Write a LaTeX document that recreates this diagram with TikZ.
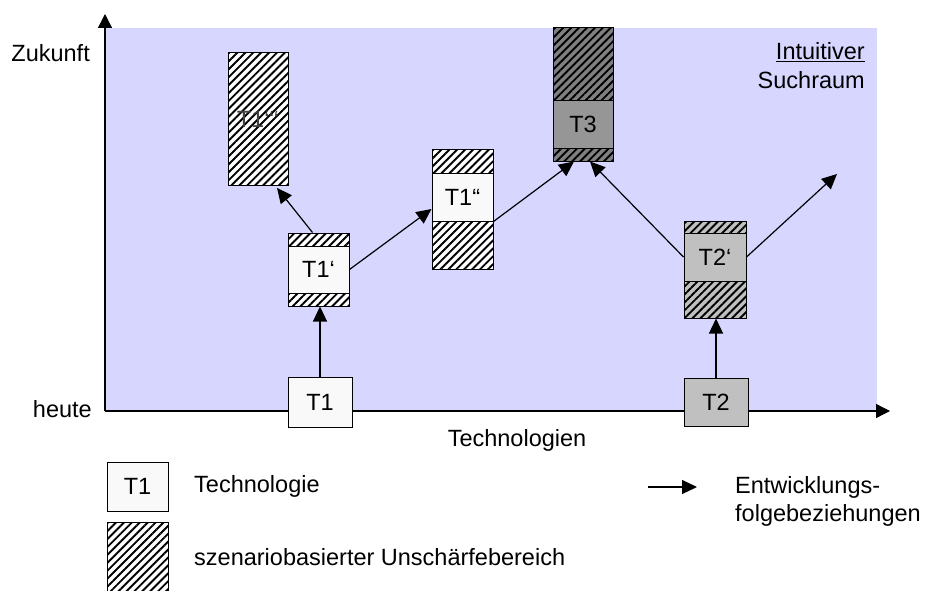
\documentclass[tikz,border=0pt]{standalone}
\usepackage{fontspec}
\setmainfont{Liberation Sans}
\usetikzlibrary{arrows.meta,patterns.meta,calc}
\definecolor{bgblue}{RGB}{214,214,255}
\definecolor{boxwhite}{RGB}{249,249,249}
\definecolor{boxgray}{RGB}{192,192,192}
\definecolor{boxdark}{RGB}{150,150,150}
\definecolor{hatchdark}{RGB}{128,128,128}
\begin{document}
\begin{tikzpicture}[x=1pt,y=-1pt,
  every node/.style={font=\fontsize{23.5}{28}\selectfont},
  box/.style={draw=black, line width=1pt, inner sep=0pt, rectangle},
  hatched/.style={box, preaction={fill=#1}, pattern={Lines[angle=45,distance=5.6pt,line width=1.9pt]}},
  hatched/.default=white,
  techbox/.style={box, fill=#1},
  techbox/.default=boxwhite,
  flow/.style={-{Triangle[length=15pt,width=14pt]}, line width=1.2pt},
  axis/.style={-{Triangle[length=14pt,width=14pt]}, line width=1.3pt},
  lbl/.style={inner sep=0pt},
]
\useasboundingbox (0,0) rectangle (928,591);
% search space
\fill[bgblue] (105,28) rectangle (877,411);
% axes
\coordinate (origin) at (105,411);
\coordinate (ytop) at (105,14);
\coordinate (xend) at (890,411);
\draw[axis] (origin) -- (ytop);
\draw[axis] (origin) -- (xend);
\node[lbl, anchor=east] (zuk) at (90,53) {Zukunft};
\node[lbl, anchor=east] (heu) at (92,409) {heute};
\node[lbl] (techn) at (517,440) {Technologien};
\node[lbl, anchor=east, align=right, font=\fontsize{23.5}{29}\selectfont] (such) at (865,66) {\underline{Intuitiver}\\Suchraum};

% T1'''
\node[hatched, minimum width=60pt, minimum height=132pt, text=black!75] (t1ppp) at (258,119) {T1‘‘‘};
% T1'
\node[hatched, minimum width=61pt, minimum height=73pt] (t1p) at (318.5,269.5) {};
\node[techbox, minimum width=61pt, minimum height=47pt] (t1pi) at (318.5,269.5) {T1‘};
% T1''
\node[hatched, minimum width=61pt, minimum height=120pt] (t1pp) at (462.5,209) {};
\node[techbox, minimum width=61pt, minimum height=48pt] (t1ppi) at (462.5,197) {T1“};
% T3
\node[hatched=hatchdark, minimum width=60pt, minimum height=133pt] (t3) at (583,94.5) {};
\node[techbox=boxdark, minimum width=60pt, minimum height=47pt] (t3i) at (583,124.5) {T3};
% T2'
\node[hatched=boxgray, minimum width=62pt, minimum height=97pt] (t2p) at (715,269.5) {};
\node[techbox=boxgray, minimum width=62pt, minimum height=48pt] (t2pi) at (715,257) {T2‘};
% T1, T2
\node[techbox, minimum width=64pt, minimum height=50pt] (t1) at (320,402) {T1};
\node[techbox=boxgray, minimum width=64pt, minimum height=48pt] (t2) at (716,402) {T2};

% connectors
\coordinate (free) at (837,174);
\draw[flow] (t1.north) -- (t1.north |- t1p.south);
\draw[flow] (t2.north) -- (t2.north |- t2p.south);
\draw[flow] ($(t1p.north)+(-6,0)$) -- ($(t1ppp.south)+(19,2)$);
\draw[flow] (t1pi.east) -- (t1pp.west);
\draw[flow] (t1ppi.south east) -- ($(t3.south)+(-9,0)$);
\draw[flow] (t2pi.west) -- ($(t3.south)+(7,0)$);
\draw[flow] (t2pi.east) -- (free);

% legend
\node[techbox, minimum width=61pt, minimum height=49pt] (legT) at (137.5,486.5) {T1};
\node[lbl, anchor=west] (legTtxt) at (194,486) {Technologie};
\node[hatched, minimum width=61pt, minimum height=74pt] (legH) at (137.5,559) {};
\node[lbl, anchor=west] (legHtxt) at (194,557) {szenariobasierter Unschärfebereich};
\coordinate (legA1) at (648,487);
\coordinate (legA2) at (697,487);
\draw[flow] (legA1) -- (legA2);
\node[lbl, anchor=west, align=left] (legAtxt) at (735,501) {Entwicklungs-\\folgebeziehungen};
\end{tikzpicture}
\end{document}
